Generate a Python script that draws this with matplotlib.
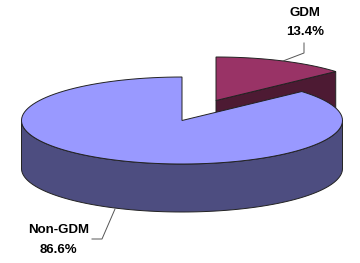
import numpy as np
import matplotlib
matplotlib.use("Agg")
import matplotlib.pyplot as plt
from matplotlib.patches import Polygon

labels = ["GDM", "Non-GDM"]
values = [13.4, 86.6]
pct_labels = ["13.4%", "86.6%"]

top_colors = ["#993366", "#9999FF"]
side_colors = ["#4D1A33", "#4D4D80"]

W, H = 360, 263
fig = plt.figure(figsize=(W / 100, H / 100), dpi=100)
ax = fig.add_axes([0, 0, 1, 1])
ax.set_xlim(0, W)
ax.set_ylim(H, 0)
ax.axis("off")

cx, cy = 182, 120.5
rx, ry = 160.5, 43.5
depth = 48
explode = [(34, -20), (0, 0)]
edge = "#222222"
lw = 0.7

total = sum(values)
starts = np.concatenate([[0], np.cumsum(values)[:-1]]) / total * 360
ends = np.cumsum(values) / total * 360


def pt(theta, ox, oy, dz=0):
    t = np.radians(theta)
    return (cx + ox + rx * np.sin(t), cy + oy - ry * np.cos(t) + dz)


def arc(a0, a1, ox, oy, dz=0, n=120):
    th = np.linspace(a0, a1, n)
    return [pt(t, ox, oy, dz) for t in th]


for i in [0, 1]:
    a0, a1 = starts[i], ends[i]
    ox, oy = explode[i]
    apex = (cx + ox, cy + oy)
    # outer wall, visible front part (90..270)
    lo, hi = max(a0, 90), min(a1, 270)
    if hi > lo:
        top = arc(lo, hi, ox, oy)
        bot = arc(hi, lo, ox, oy, depth)
        ax.add_patch(Polygon(top + bot, closed=True, facecolor=side_colors[i],
                             edgecolor=edge, lw=lw, zorder=2 * i + 1))
    # radial face at end angle (faces viewer if end angle in 0..180)
    if 0 < a1 % 360 < 180:
        p = pt(a1, ox, oy)
        poly = [apex, p, (p[0], p[1] + depth), (apex[0], apex[1] + depth)]
        ax.add_patch(Polygon(poly, closed=True, facecolor=side_colors[i],
                             edgecolor=edge, lw=lw, zorder=2 * i + 1))
    # top face
    poly = [apex] + arc(a0, a1, ox, oy)
    ax.add_patch(Polygon(poly, closed=True, facecolor=top_colors[i],
                         edgecolor=edge, lw=lw, zorder=2 * i + 2))

fs = 9.5
fam = ["Liberation Sans", "DejaVu Sans"]
# GDM label
ax.text(305, 13, labels[0], ha="center", va="center", fontsize=fs,
        fontweight="bold", family=fam, zorder=10)
ax.text(305, 32, pct_labels[0], ha="center", va="center", fontsize=fs,
        fontweight="bold", family=fam, zorder=10)
ax.plot([304, 304, 283], [43, 53, 61], color="#555555", lw=0.7, zorder=10)
# Non-GDM label
ax.text(59, 230, labels[1], ha="center", va="center", fontsize=fs,
        fontweight="bold", family=fam, zorder=10)
ax.text(58, 250, pct_labels[1], ha="center", va="center", fontsize=fs,
        fontweight="bold", family=fam, zorder=10)
ax.plot([92, 102, 115], [239, 239, 209], color="#555555", lw=0.7, zorder=10)

fig.savefig("out.png", dpi=100)
